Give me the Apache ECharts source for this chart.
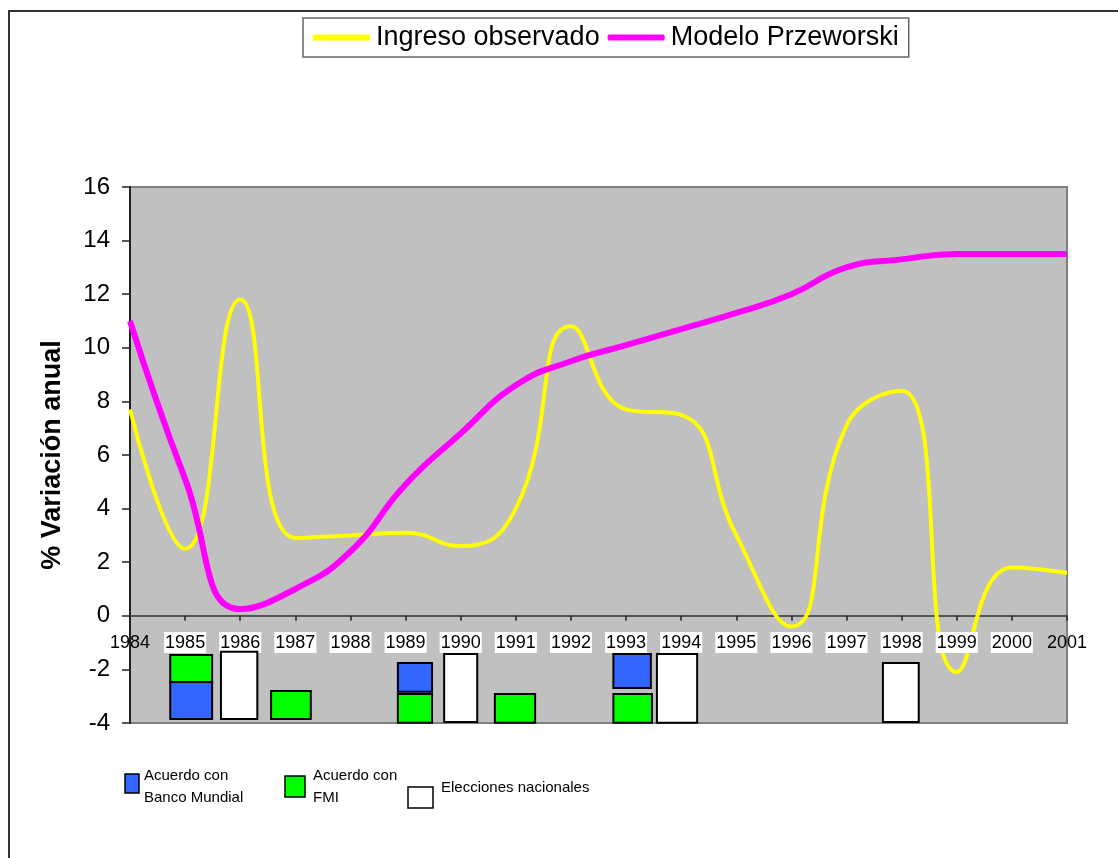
<!DOCTYPE html>
<html>

<head>
    <meta charset="utf-8">
    <script src="https://cdn.jsdelivr.net/npm/echarts@6/dist/echarts.min.js"></script>
</head>

<body style="margin:0;background:#fff">
    <div id="main" style="width:1118px;height:858px;"></div>
    <script type="text/javascript">
        // datos
        var years = [1984, 1985, 1986, 1987, 1988, 1989, 1990, 1991, 1992, 1993, 1994, 1995, 1996, 1997, 1998, 1999, 2000, 2001];
        var ingreso = [7.7, 2.5, 11.8, 2.9, 3.0, 3.1, 2.6, 4.0, 10.8, 7.7, 7.5, 3.0, -0.4, 7.1, 8.4, -2.1, 1.8, 1.6];
        var modelo = [11.0, 5.1, 0.25, 1.0, 2.4, 4.9, 6.8, 8.6, 9.5, 10.1, 10.7, 11.3, 12.0, 13.0, 13.3, 13.5, 13.5, 13.5];

        // cajas de eventos: [desde, hasta, valor bajo, valor alto]
        var bancoMundial = [
            [1984.73, 1985.49, -3.85, -2.47],
            [1988.86, 1989.48, -2.83, -1.76],
            [1992.77, 1993.45, -2.69, -1.43]
        ];
        var fmi = [
            [1984.73, 1985.49, -2.47, -1.46],
            [1986.56, 1987.28, -3.85, -2.81],
            [1988.86, 1989.48, -3.99, -2.92],
            [1990.62, 1991.35, -3.99, -2.92],
            [1992.77, 1993.47, -3.99, -2.92]
        ];
        var elecciones = [
            [1985.65, 1986.31, -3.85, -1.34],
            [1989.70, 1990.30, -3.96, -1.43],
            [1993.56, 1994.29, -3.99, -1.43],
            [1997.66, 1998.31, -3.96, -1.76]
        ];

        var font = 'Liberation Sans, Arial, sans-serif';

        function pairs(vals) {
            return years.map(function (y, i) { return [y, vals[i]]; });
        }

        function boxRender(color) {
            return function (params, api) {
                var p0 = api.coord([api.value(0), api.value(3)]);
                var p1 = api.coord([api.value(1), api.value(2)]);
                return {
                    type: 'rect',
                    shape: { x: p0[0], y: p0[1], width: p1[0] - p0[0], height: p1[1] - p0[1] },
                    style: { fill: color, stroke: '#000', lineWidth: 2 }
                };
            };
        }

        function boxSeries(name, data, color) {
            return {
                name: name,
                type: 'custom',
                renderItem: boxRender(color),
                encode: { x: [0, 1], y: [2, 3] },
                data: data,
                z: 12,
                silent: true
            };
        }

        var myChart = echarts.init(document.getElementById('main'));
        var option = {
            animation: false,
            textStyle: { fontFamily: font },
            grid: {
                left: 130, right: 51, top: 187, bottom: 135,
                show: true, backgroundColor: '#c0c0c0', borderColor: '#808080', borderWidth: 2,
                outerBoundsMode: 'none'
            },
            legend: {
                data: [
                    { name: 'Ingreso observado', icon: 'rect', itemStyle: { color: '#ffff00' } },
                    { name: 'Modelo Przeworski', icon: 'roundRect', itemStyle: { color: '#ff00ff' } }
                ],
                left: 303, top: 18,
                padding: [6, 10, 6, 10],
                itemGap: 8,
                itemWidth: 57, itemHeight: 6,
                backgroundColor: '#fff',
                borderColor: '#666', borderWidth: 1.5,
                textStyle: { fontFamily: font, fontSize: 27, color: '#000', padding: [0, 0, 0, 1] }
            },
            xAxis: [{
                // linea en cero con sus marcas
                type: 'value', min: 1984, max: 2001, interval: 1,
                axisLine: { onZero: true, lineStyle: { color: '#555', width: 2 } },
                axisTick: { show: true, length: 5, lineStyle: { color: '#222', width: 1.5 } },
                splitLine: { show: false },
                axisLabel: { show: false }
            }, {
                // etiquetas de los años
                type: 'value', min: 1984, max: 2001, interval: 1,
                position: 'bottom',
                z: 10,
                axisLine: { show: false, onZero: false },
                axisTick: { show: false },
                splitLine: { show: false },
                axisLabel: {
                    margin: -90,
                    formatter: function (v) {
                        return (v === 1984 || v === 2001) ? '{n|' + v + '}' : '{w|' + v + '}';
                    },
                    rich: {
                        w: { fontFamily: font, fontSize: 18, color: '#000', backgroundColor: '#fff', padding: [2, 1, 1, 1], lineHeight: 19 },
                        n: { fontFamily: font, fontSize: 18, color: '#000', padding: [2, 1, 1, 1], lineHeight: 19 }
                    }
                }
            }],
            yAxis: {
                type: 'value', min: -4, max: 16, interval: 2,
                name: '% Variación anual',
                nameLocation: 'middle',
                nameGap: 64,
                nameTextStyle: { fontFamily: font, fontSize: 27, fontWeight: 'bold', color: '#000' },
                axisLine: { show: true, onZero: false, lineStyle: { color: '#222', width: 2 } },
                axisTick: { show: true, length: 8, lineStyle: { color: '#222', width: 1.5 } },
                splitLine: { show: false },
                axisLabel: { margin: 20, fontFamily: font, fontSize: 24, color: '#000' }
            },
            series: [
                boxSeries('Acuerdo con Banco Mundial', bancoMundial, '#3366ff'),
                boxSeries('Acuerdo con FMI', fmi, '#00ff00'),
                boxSeries('Elecciones nacionales', elecciones, '#ffffff'),
                {
                    name: 'Ingreso observado',
                    type: 'line',
                    smooth: 0.5,
                    symbol: 'none',
                    data: pairs(ingreso),
                    itemStyle: { color: '#ffff00' },
                    lineStyle: { color: '#ffff00', width: 4 },
                    z: 3
                },
                {
                    name: 'Modelo Przeworski',
                    type: 'line',
                    smooth: 0.5,
                    symbol: 'none',
                    data: pairs(modelo),
                    itemStyle: { color: '#ff00ff' },
                    lineStyle: { color: '#ff00ff', width: 6 },
                    z: 4
                }
            ],
            graphic: [
                // marco exterior
                { type: 'rect', shape: { x: 9, y: 11, width: 1200, height: 900 }, style: { fill: 'none', stroke: '#333', lineWidth: 2 }, silent: true },
                // leyenda inferior
                { type: 'rect', shape: { x: 125, y: 774, width: 14, height: 19 }, style: { fill: '#3366ff', stroke: '#000', lineWidth: 1.5 } },
                { type: 'text', left: 144, top: 765, style: { text: 'Acuerdo con\nBanco Mundial', font: '15px ' + font, fill: '#000', lineHeight: 22 } },
                { type: 'rect', shape: { x: 285, y: 776, width: 20, height: 21 }, style: { fill: '#00ff00', stroke: '#000', lineWidth: 1.5 } },
                { type: 'text', left: 313, top: 765, style: { text: 'Acuerdo con\nFMI', font: '15px ' + font, fill: '#000', lineHeight: 22 } },
                { type: 'rect', shape: { x: 408, y: 787, width: 25, height: 21 }, style: { fill: '#fff', stroke: '#000', lineWidth: 1.5 } },
                { type: 'text', left: 441, top: 780, style: { text: 'Elecciones nacionales', font: '15px ' + font, fill: '#000' } }
            ]
        };
        myChart.setOption(option);
    </script>
</body>

</html>
